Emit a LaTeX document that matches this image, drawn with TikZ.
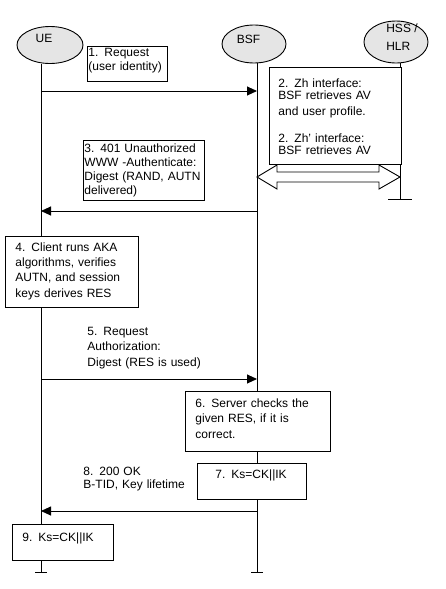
\documentclass[tikz,border=0pt]{standalone}
\usepackage{fontspec}
\setmainfont{Liberation Sans}
\usetikzlibrary{arrows.meta, shapes.geometric, calc}

\begin{document}
\begin{tikzpicture}[x=1pt, y=-1pt, line width=0.9pt, >={Triangle[length=10pt, width=9pt]},
    actor/.style={ellipse, draw, fill=black!10, inner sep=0pt},
    note/.style={draw, fill=white, anchor=north west, align=left, inner ysep=0pt},
    msglabel/.style={anchor=north west, align=left, inner sep=0pt}]

    \useasboundingbox (0,0) rectangle (445,589);

    % Lifeline ends
    \coordinate (UE end) at (41,572);
    \coordinate (BSF end) at (257,572);
    \coordinate (HSS end) at (400,199);

    % Message heights
    \coordinate (m1) at (0,91);
    \coordinate (m3) at (0,211);
    \coordinate (m5) at (0,379);
    \coordinate (m8) at (0,511);
    \coordinate (zh arrow) at (0,177);

    % Entities
    \node[actor, minimum width=66pt, minimum height=37pt,
          label={[xshift=-6pt, yshift=6.5pt, font=\fontsize{12}{14}\selectfont]center:UE}] (UE) at (50,45) {};
    \node[actor, minimum width=64pt, minimum height=38pt,
          label={[xshift=-5.5pt, yshift=5pt, font=\fontsize{12}{14}\selectfont]center:BSF}] (BSF) at (254,44) {};
    \node[actor, minimum width=64pt, minimum height=42pt,
          label={[align=left, xshift=6pt, yshift=5pt, font=\fontsize{12}{17.5}\selectfont]center:HSS /\\HLR}] (HSS) at (396,42) {};

    % Lifelines
    \draw (UE.south -| UE end) -- (UE end);
    \draw (UE end) ++(-6,0) -- ++(12,0);
    \draw (BSF.south -| BSF end) -- (BSF end);
    \draw (BSF end) ++(-6,0) -- ++(12,0);
    \draw (HSS.south -| HSS end) -- (HSS end);
    \draw (HSS end) ++(-12,0) -- ++(24,0);

    % Messages
    \draw[->] (UE end |- m1) -- (BSF end |- m1);
    \draw[->] (BSF end |- m3) -- (UE end |- m3);
    \draw[->] (UE end |- m5) -- (BSF end |- m5);
    \draw[->] (BSF end |- m8) -- (UE end |- m8);

    % Boxes and labels
    \node[note, text width=78pt, inner xsep=1pt, text height=10.5pt, text depth=24.5pt,
          font=\fontsize{12}{13.3}\selectfont] (req) at (87,46) {1. Request\\(user identity)};
    \node[note, text width=114pt, inner xsep=9pt, text height=19.7pt, text depth=77.3pt,
          font=\fontsize{12}{12}\selectfont] (zh) at (269,67)
          {2. Zh interface:\\BSF retrieves AV\\[4.7pt]and user profile.\\[14.7pt]2. Zh' interface:\\BSF retrieves AV};
    \node[note, text width=119pt, inner xsep=1pt, text height=11.7pt, text depth=48.3pt,
          font=\fontsize{12}{14}\selectfont] (auth) at (83,140)
          {3. 401 Unauthorized\\WWW -Authenticate:\\Digest (RAND, AUTN\\delivered)};
    \node[note, text width=113pt, inner xsep=10pt, text height=15pt, text depth=56pt,
          font=\fontsize{12}{15.2}\selectfont] (aka) at (5,236)
          {4. Client runs AKA\\algorithms, verifies\\AUTN, and session\\keys derives RES};
    \node[msglabel, text width=130pt, text height=9.5pt,
          font=\fontsize{12}{15.5}\selectfont] (authz) at (87,325.5)
          {5. Request\\Authorization:\\Digest (RES is used)};
    \node[note, text width=125pt, inner xsep=10pt, text height=15.7pt, text depth=44.3pt,
          font=\fontsize{12}{15.5}\selectfont] (check) at (185,391)
          {6. Server checks the\\given RES, if it is\\correct.};
    \node[note, text width=73pt, inner xsep=18pt, text height=15.3pt, text depth=20.7pt,
          font=\fontsize{12}{14}\selectfont] (ks bsf) at (197,463) {7. Ks=CK||IK};
    \node[msglabel, text width=150pt, text height=9pt,
          font=\fontsize{12}{13.5}\selectfont] (ok) at (83,466)
          {8. 200 OK\\B-TID, Key lifetime};
    \node[note, text width=81pt, inner xsep=10pt, text height=16.7pt, text depth=19.3pt,
          font=\fontsize{12}{14}\selectfont] (ks ue) at (12,524) {9. Ks=CK||IK};

    % Zh / Zh' interface
    \draw[fill=white] (BSF end |- zh arrow) -- ++(20,-12) -- ++(0,7)
        -- ($(HSS end |- zh arrow)+(-21,-5)$) -- ++(0,-7) -- (HSS end |- zh arrow)
        -- ++(-21,12) -- ++(0,-7) -- ($(BSF end |- zh arrow)+(20,5)$) -- ++(0,7) -- cycle;

\end{tikzpicture}
\end{document}
